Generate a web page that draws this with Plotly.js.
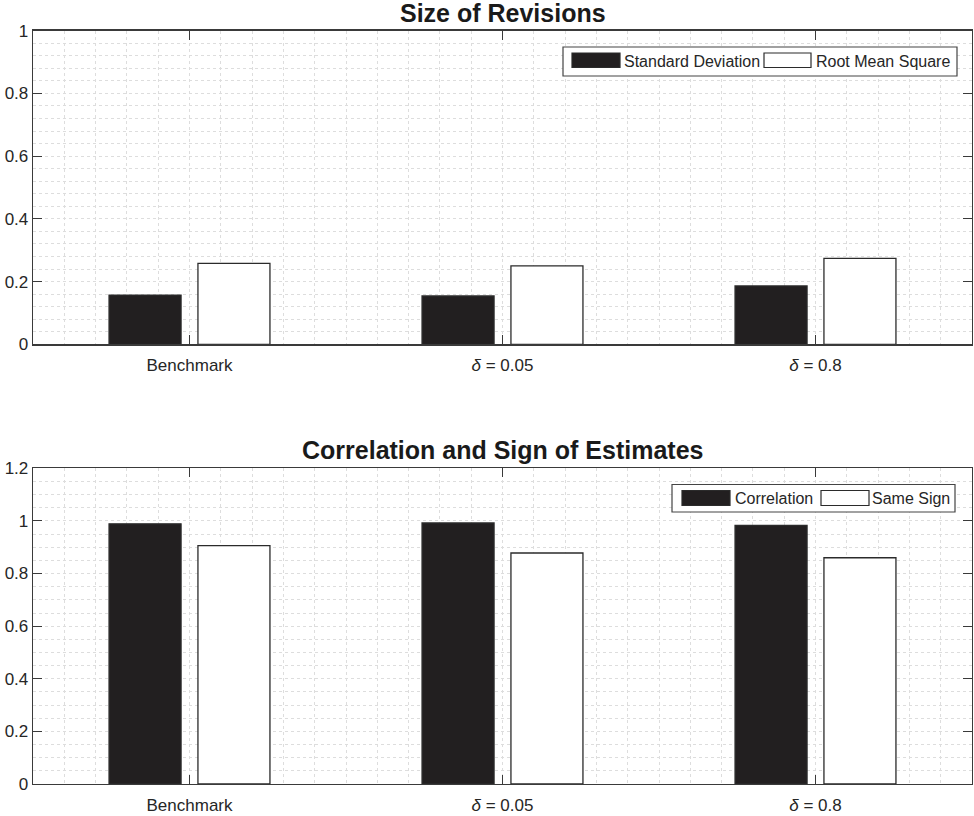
<!DOCTYPE html>
<html>
<head>
<meta charset="utf-8">
<script src="https://cdn.plot.ly/plotly-3.0.1.min.js"></script>
<style>
  html, body { margin: 0; padding: 0; background: #fff; }
  #chart { width: 974px; height: 816px; }
</style>
</head>
<body>
<div id="chart"></div>
<script>
// Scenario labels shared by both panels
const categories = ['Benchmark', '<i>δ</i> = 0.05', '<i>δ</i> = 0.8'];

// Panel 1: size of revisions
const sizeSeriesNames = ['Standard Deviation', 'Root Mean Square'];
const stdDeviation = [0.157, 0.154, 0.186];
const rootMeanSquare = [0.258, 0.250, 0.274];

// Panel 2: correlation and sign agreement of estimates
const corrSeriesNames = ['Correlation', 'Same Sign'];
const correlation = [0.989, 0.992, 0.983];
const sameSign = [0.906, 0.878, 0.860];

const positions = categories.map((_, i) => i + 1);

const W = 974, H = 816;
const PLOT_L = 33, PLOT_R = 972;
const px = x => (x - PLOT_L) / (PLOT_R - PLOT_L);
const py = y => 1 - y / H;

const FONT = 'Liberation Sans, Arial, Helvetica, sans-serif';
const TEXT = '#262626';
const AXIS = '#3a3a3a';
const GRID = '#dddddd';
const DARK = '#221f20';
const EDGE = '#2b2b2b';

function bar(y, name, fill, xa, ya) {
  return {
    type: 'bar', x: positions, y: y, name: name,
    xaxis: xa, yaxis: ya, showlegend: false, hoverinfo: 'skip',
    marker: { color: fill, line: { color: EDGE, width: 1.3 } }
  };
}

const data = [
  bar(stdDeviation, sizeSeriesNames[0], DARK, 'x', 'y'),
  bar(rootMeanSquare, sizeSeriesNames[1], '#ffffff', 'x', 'y'),
  bar(correlation, corrSeriesNames[0], DARK, 'x2', 'y2'),
  bar(sameSign, corrSeriesNames[1], '#ffffff', 'x2', 'y2')
];

function xAxis(anchor) {
  return {
    anchor: anchor, domain: [0, 1], range: [0.5, 3.5],
    tickmode: 'array', tickvals: positions, ticktext: categories,
    ticks: 'inside', ticklen: 9, tickwidth: 1, tickcolor: AXIS,
    ticklabelstandoff: 5,
    showline: true, linecolor: AXIS, linewidth: 1.3, mirror: 'ticks',
    showgrid: true, gridcolor: GRID, griddash: 'dot', gridwidth: 1,
    zeroline: false, fixedrange: true,
    tickfont: { family: FONT, size: 17, color: TEXT },
    minor: { tick0: 0.5, dtick: 0.1, showgrid: true, gridcolor: GRID, griddash: 'dot', gridwidth: 1, ticks: '' }
  };
}

function yAxis(anchor, domain, range, minorStep) {
  return {
    anchor: anchor, domain: domain, range: range,
    tick0: 0, dtick: 0.2,
    ticks: 'inside', ticklen: 9, tickwidth: 1, tickcolor: AXIS,
    showline: true, linecolor: AXIS, linewidth: 1.3, mirror: 'ticks',
    showgrid: true, gridcolor: GRID, griddash: 'dot', gridwidth: 1,
    zeroline: false, fixedrange: true,
    tickfont: { family: FONT, size: 17, color: TEXT },
    minor: { tick0: 0, dtick: minorStep, showgrid: true, gridcolor: GRID, griddash: 'dot', gridwidth: 1, ticks: '' }
  };
}

// Boxed legend with wide swatches, placed in the top-right corner of a panel
function legendParts(names, box, swatches, labels) {
  const shapes = [{
    type: 'rect', xref: 'paper', yref: 'paper', layer: 'above',
    x0: px(box[0]), x1: px(box[1]), y0: py(box[3]), y1: py(box[2]),
    fillcolor: '#ffffff', line: { color: '#444', width: 1.2 }
  }];
  const fills = [DARK, '#ffffff'];
  swatches.forEach((s, i) => {
    shapes.push({
      type: 'rect', xref: 'paper', yref: 'paper', layer: 'above',
      x0: px(s[0]), x1: px(s[1]), y0: py(s[3]), y1: py(s[2]),
      fillcolor: fills[i], line: { color: EDGE, width: 1.2 }
    });
  });
  const anns = names.map((n, i) => ({
    xref: 'paper', yref: 'paper', x: px(labels[i][0]), y: py(labels[i][1]),
    xanchor: 'left', yanchor: 'middle', showarrow: false, text: n,
    font: { family: FONT, size: 16, color: TEXT }
  }));
  return { shapes, anns };
}

const topLegend = legendParts(sizeSeriesNames,
  [563, 957, 47, 76],
  [[572, 620, 53, 67.5], [764, 811, 53, 67.5]],
  [[622, 62], [814, 62]]);

const botLegend = legendParts(corrSeriesNames,
  [672, 955, 484.5, 512],
  [[682, 730, 490.5, 505.5], [821, 869, 490.5, 505.5]],
  [[733, 498.5], [870, 498.5]]);

const titles = [
  { text: '<b>Size of Revisions</b>', y: 13 },
  { text: '<b>Correlation and Sign of Estimates</b>', y: 450 }
].map(t => ({
  xref: 'paper', yref: 'paper', x: 0.5, y: py(t.y),
  xanchor: 'center', yanchor: 'middle', showarrow: false, text: t.text,
  font: { family: FONT, size: 25, color: '#1a1a1a' }
}));

const layout = {
  width: W, height: H,
  margin: { l: PLOT_L, r: W - PLOT_R, t: 0, b: 0, pad: 0 },
  paper_bgcolor: '#ffffff', plot_bgcolor: '#ffffff',
  barmode: 'group', bargap: 0.432, bargroupgap: 0.19,
  showlegend: false,
  font: { family: FONT, color: TEXT },
  xaxis: xAxis('y'),
  yaxis: yAxis('x', [py(344.3), py(30.7)], [0, 1], 0.04),
  xaxis2: xAxis('y2'),
  yaxis2: yAxis('x2', [py(784), py(468.3)], [0, 1.2], 0.05),
  shapes: topLegend.shapes.concat(botLegend.shapes),
  annotations: titles.concat(topLegend.anns, botLegend.anns)
};

Plotly.newPlot('chart', data, layout, { staticPlot: true, displayModeBar: false });
</script>
</body>
</html>
